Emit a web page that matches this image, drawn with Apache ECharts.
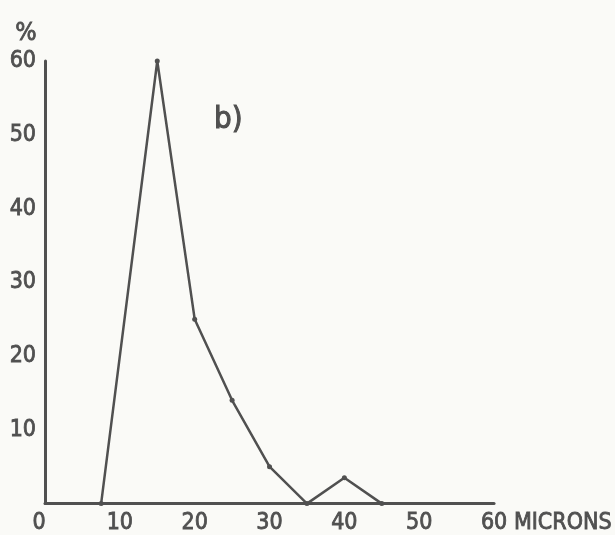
<!DOCTYPE html>
<html>
<head>
<meta charset="utf-8">
<script src="https://cdn.jsdelivr.net/npm/echarts@6/dist/echarts.min.js"></script>
<style>
html,body{margin:0;padding:0;background:#fafaf7;}
#chart{width:615px;height:535px;}
</style>
</head>
<body>
<div id="chart"></div>
<script>
// Data (fibre diameter distribution, panel b)
const microns = [7.5, 15, 20, 25, 30, 35, 40, 45];
const percent = [0, 60, 25, 14, 5, 0, 3.5, 0];
const xTicks = [0, 10, 20, 30, 40, 50, 60];
const yTicks = [0, 10, 20, 30, 40, 50, 60];
const panelLabel = 'b)';
const xName = 'MICRONS';
const yName = '%';

const FONT = '"DejaVu Sans Condensed", "DejaVu Sans", sans-serif';
const INK = '#505050';

const chart = echarts.init(document.getElementById('chart'), null, {renderer: 'canvas'});
chart.setOption({
  backgroundColor: '#fafaf7',
  animation: false,
  title: {
    text: panelLabel,
    left: 209,
    top: 99,
    textStyle: {fontFamily: FONT, fontSize: 31, fontWeight: 'normal', color: INK,
                textBorderColor: INK, textBorderWidth: 1}
  },
  grid: {left: 45, right: 117, top: 61, bottom: 28, containLabel: false},
  xAxis: {
    type: 'value',
    min: xTicks[0],
    max: xTicks[xTicks.length - 1],
    interval: 10,
    name: xName,
    nameLocation: 'end',
    nameGap: 19,
    nameTextStyle: {fontFamily: FONT, fontSize: 23, color: INK, align: 'left', verticalAlign: 'top',
                    padding: [8, 0, 0, 0], textBorderColor: INK, textBorderWidth: 0.8},
    axisLine: {show: true, lineStyle: {color: INK, width: 3}},
    axisTick: {show: false},
    splitLine: {show: false},
    axisLabel: {
      fontFamily: FONT, fontSize: 23, color: INK, margin: 8,
      textBorderColor: INK, textBorderWidth: 0.8,
      showMinLabel: true, showMaxLabel: true,
      formatter: v => (v === 0 ? '{z|0}' : (xTicks.includes(v) ? String(v) : '')),
      rich: {z: {fontFamily: FONT, fontSize: 23, color: INK, padding: [0, 12, 0, 0],
                 textBorderColor: INK, textBorderWidth: 0.8}}
    }
  },
  yAxis: {
    type: 'value',
    min: yTicks[0],
    max: yTicks[yTicks.length - 1],
    interval: 10,
    name: yName,
    nameLocation: 'end',
    nameGap: 28,
    nameTextStyle: {fontFamily: FONT, fontSize: 25, color: INK, align: 'center', verticalAlign: 'middle',
                    padding: [0, 38, 0, 0], textBorderColor: INK, textBorderWidth: 0.8},
    axisLine: {show: true, onZero: false, lineStyle: {color: INK, width: 3}},
    axisTick: {show: false},
    splitLine: {show: false},
    axisLabel: {
      fontFamily: FONT, fontSize: 23, color: INK, margin: 9,
      textBorderColor: INK, textBorderWidth: 0.8,
      formatter: v => (v === 0 ? '' : String(v))
    }
  },
  series: [{
    type: 'line',
    data: microns.map((m, i) => [m, percent[i]]),
    symbol: 'circle',
    symbolSize: 5,
    itemStyle: {color: INK},
    lineStyle: {color: INK, width: 2.5},
    z: 3
  }]
});
</script>
</body>
</html>
